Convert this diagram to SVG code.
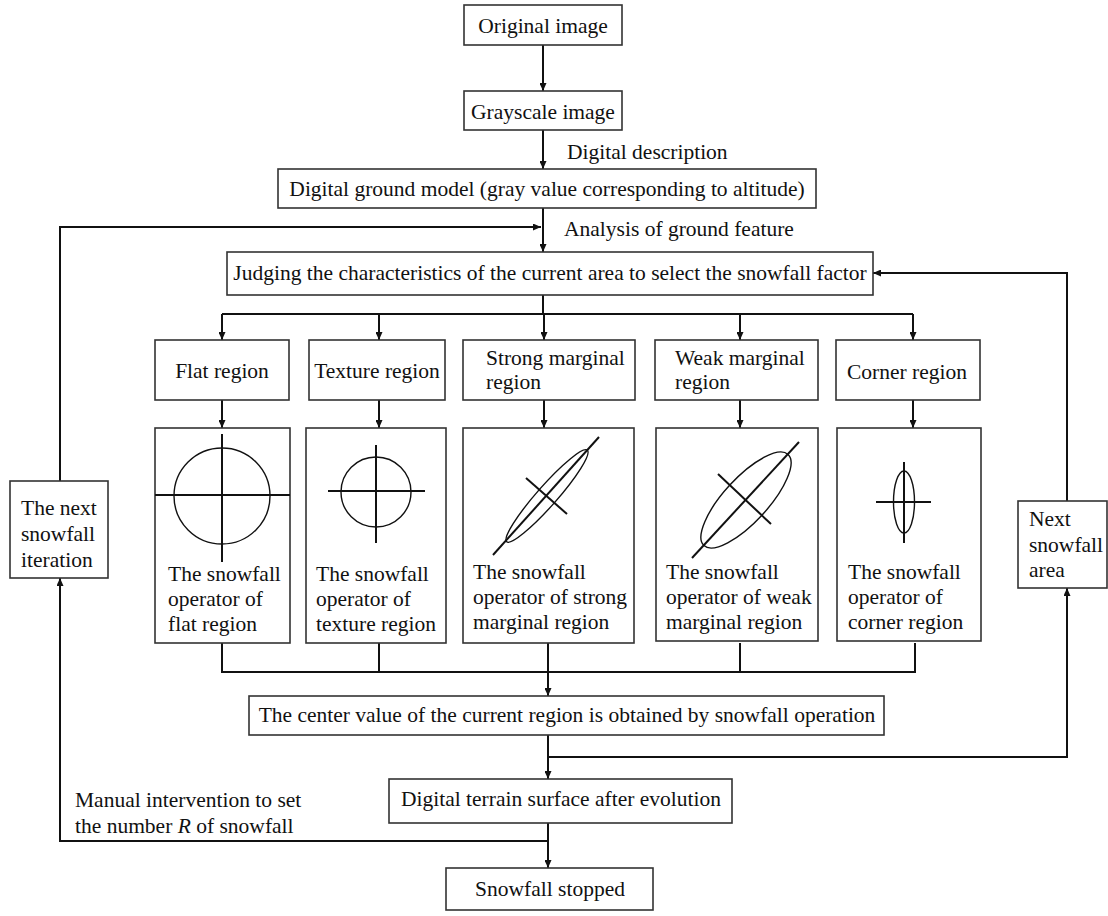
<svg xmlns="http://www.w3.org/2000/svg" width="1108" height="916" viewBox="0 0 1108 916">
<defs>
<marker id="ah" markerWidth="8" markerHeight="7" refX="8" refY="3.5" orient="auto" markerUnits="userSpaceOnUse">
<path d="M0,0 L8,3.5 L0,7 z" fill="#111"/>
</marker>
<style>
.box{fill:#fff;stroke:#333;stroke-width:1.6}
.t{font-family:"Liberation Serif","Times New Roman",serif;font-size:21.5px;fill:#111}
.c{text-anchor:middle}
.ln{fill:none;stroke:#111;stroke-width:2}
.ar{fill:none;stroke:#111;stroke-width:2;marker-end:url(#ah)}
.sh{fill:none;stroke:#111;stroke-width:2}
.el{fill:none;stroke:#111;stroke-width:1.4}
</style>
</defs>
<rect width="1108" height="916" fill="#fff"/>

<g id="connectors">
<line class="ar" x1="543" y1="45" x2="543" y2="91"/>
<line class="ar" x1="543" y1="130" x2="543" y2="169"/>
<line class="ar" x1="543" y1="208" x2="543" y2="252"/>
<polyline class="ar" points="60,481 60,227 541,227"/>
<polyline class="ar" points="1067,501 1067,273 873,273"/>
<polyline class="ln" points="543,295 543,314"/>
<polyline class="ln" points="222,314 913,314"/>
<line class="ar" x1="222" y1="314" x2="222" y2="340"/>
<line class="ar" x1="379" y1="314" x2="379" y2="340"/>
<line class="ar" x1="544" y1="314" x2="544" y2="340"/>
<line class="ar" x1="740" y1="314" x2="740" y2="340"/>
<line class="ar" x1="913" y1="314" x2="913" y2="340"/>
<line class="ar" x1="222" y1="400" x2="222" y2="428"/>
<line class="ar" x1="379" y1="400" x2="379" y2="428"/>
<line class="ar" x1="544" y1="400" x2="544" y2="428"/>
<line class="ar" x1="740" y1="400" x2="740" y2="428"/>
<line class="ar" x1="913" y1="400" x2="913" y2="428"/>
<polyline class="ln" points="222,643 222,672 915,672 915,643"/>
<line class="ln" x1="379" y1="643" x2="379" y2="672"/>
<line class="ln" x1="740" y1="643" x2="740" y2="672"/>
<line class="ar" x1="548" y1="643" x2="548" y2="696"/>
<line class="ar" x1="548" y1="735" x2="548" y2="779"/>
<polyline class="ar" points="548,757 1067,757 1067,588"/>
<line class="ar" x1="548" y1="823" x2="548" y2="868"/>
<polyline class="ar" points="548,841 60,841 60,578"/>
</g>

<text class="t" x="567" y="159">Digital description</text>
<text class="t" x="564" y="236">Analysis of ground feature</text>
<text class="t" x="75" y="807">Manual intervention to set</text>
<text class="t" x="75" y="833">the number <tspan font-style="italic">R</tspan> of snowfall</text>

<g id="original">
<rect class="box" x="464" y="5" width="158" height="40"/>
<text class="t c" x="543" y="33">Original image</text>
</g>
<g id="grayscale">
<rect class="box" x="464" y="91" width="158" height="39"/>
<text class="t c" x="543" y="119">Grayscale image</text>
</g>
<g id="dgm">
<rect class="box" x="278" y="169" width="538" height="39"/>
<text class="t c" x="547" y="196">Digital ground model (gray value corresponding to altitude)</text>
</g>
<g id="judging">
<rect class="box" x="227" y="252" width="646" height="43"/>
<text class="t c" x="550" y="280">Judging the characteristics of the current area to select the snowfall factor</text>
</g>

<g id="flat-region">
<rect class="box" x="155" y="340" width="134" height="60"/>
<text class="t c" x="222" y="378">Flat region</text>
</g>
<g id="texture-region">
<rect class="box" x="309" y="340" width="136" height="60"/>
<text class="t c" x="377" y="378">Texture region</text>
</g>
<g id="strong-region">
<rect class="box" x="463" y="340" width="172" height="60"/>
<text class="t" x="486" y="365">Strong marginal</text>
<text class="t" x="486" y="389">region</text>
</g>
<g id="weak-region">
<rect class="box" x="655" y="340" width="163" height="60"/>
<text class="t" x="675" y="365">Weak marginal</text>
<text class="t" x="675" y="389">region</text>
</g>
<g id="corner-region">
<rect class="box" x="836" y="340" width="144" height="60"/>
<text class="t c" x="907" y="379">Corner region</text>
</g>

<g id="flat-op">
<rect class="box" x="155" y="428" width="135" height="215"/>
<circle class="el" cx="222" cy="496" r="48"/>
<line class="sh" x1="222" y1="434" x2="222" y2="562"/>
<line class="sh" x1="155" y1="495" x2="290" y2="495"/>
<text class="t" x="168" y="581">The snowfall</text>
<text class="t" x="168" y="606">operator of</text>
<text class="t" x="168" y="631">flat region</text>
</g>
<g id="texture-op">
<rect class="box" x="306" y="428" width="140" height="215"/>
<circle class="el" cx="376" cy="492" r="35"/>
<line class="sh" x1="376" y1="445" x2="376" y2="543"/>
<line class="sh" x1="328" y1="491" x2="425" y2="491"/>
<text class="t" x="316" y="581">The snowfall</text>
<text class="t" x="316" y="606">operator of</text>
<text class="t" x="316" y="631">texture region</text>
</g>
<g id="strong-op">
<rect class="box" x="463" y="428" width="171" height="215"/>
<ellipse class="el" cx="547" cy="496" rx="61" ry="10" transform="rotate(-48.6 547 496)"/>
<line class="sh" x1="493" y1="555" x2="599" y2="437"/>
<line class="sh" x1="526" y1="478" x2="567" y2="514"/>
<text class="t" x="473" y="579">The snowfall</text>
<text class="t" x="473" y="604">operator of strong</text>
<text class="t" x="473" y="629">marginal region</text>
</g>
<g id="weak-op">
<rect class="box" x="656" y="428" width="162" height="213"/>
<ellipse class="el" cx="746" cy="500" rx="62" ry="22" transform="rotate(-47.3 746 500)"/>
<line class="sh" x1="692" y1="558" x2="799" y2="442"/>
<line class="sh" x1="718" y1="474" x2="771" y2="524"/>
<text class="t" x="666" y="579">The snowfall</text>
<text class="t" x="666" y="604">operator of weak</text>
<text class="t" x="666" y="629">marginal region</text>
</g>
<g id="corner-op">
<rect class="box" x="837" y="428" width="144" height="213"/>
<ellipse class="el" cx="904" cy="502" rx="10.5" ry="31"/>
<line class="sh" x1="904" y1="462" x2="904" y2="543"/>
<line class="sh" x1="876" y1="502" x2="931" y2="502"/>
<text class="t" x="848" y="579">The snowfall</text>
<text class="t" x="848" y="604">operator of</text>
<text class="t" x="848" y="629">corner region</text>
</g>

<g id="center-value">
<rect class="box" x="249" y="696" width="635" height="39"/>
<text class="t c" x="567" y="722">The center value of the current region is obtained by snowfall operation</text>
</g>
<g id="terrain">
<rect class="box" x="389" y="779" width="343" height="44"/>
<text class="t c" x="561" y="806">Digital terrain surface after evolution</text>
</g>
<g id="stopped">
<rect class="box" x="446" y="868" width="207" height="42"/>
<text class="t c" x="550" y="896">Snowfall stopped</text>
</g>
<g id="next-iteration">
<rect class="box" x="10" y="481" width="98" height="97"/>
<text class="t" x="21" y="515">The next</text>
<text class="t" x="21" y="541">snowfall</text>
<text class="t" x="21" y="567">iteration</text>
</g>
<g id="next-area">
<rect class="box" x="1018" y="501" width="89" height="87"/>
<text class="t" x="1029" y="526">Next</text>
<text class="t" x="1029" y="552">snowfall</text>
<text class="t" x="1029" y="577">area</text>
</g>
</svg>
